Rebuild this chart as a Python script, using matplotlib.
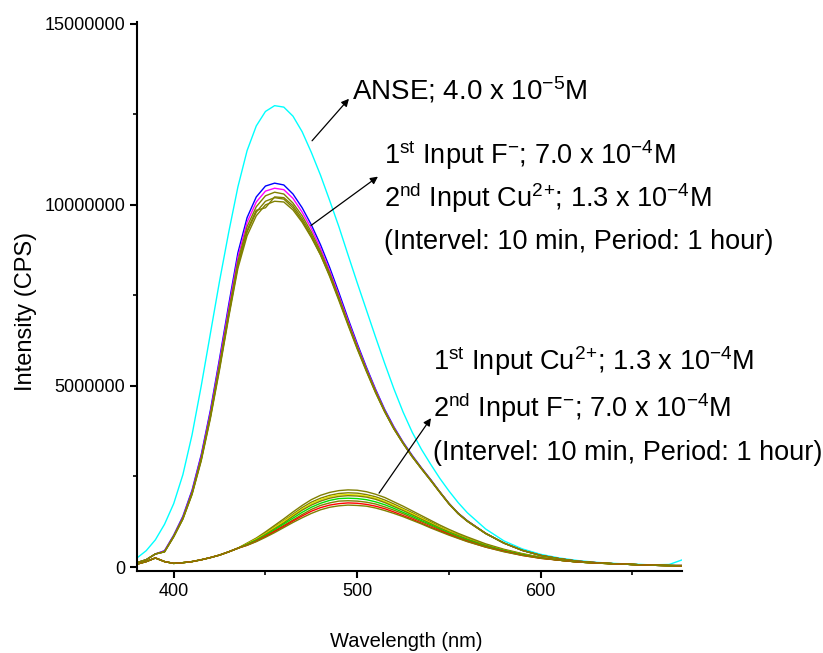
import numpy as np
import matplotlib
matplotlib.use('Agg')
from matplotlib import pyplot as plt
from matplotlib.ticker import FuncFormatter

plt.rcParams['font.family'] = ['Liberation Sans', 'DejaVu Sans']
plt.rcParams['mathtext.fontset'] = 'custom'
plt.rcParams['mathtext.rm'] = 'Liberation Sans'
plt.rcParams['mathtext.it'] = 'Liberation Sans:italic'
plt.rcParams['mathtext.bf'] = 'Liberation Sans:bold'

# wavelength grid (nm)
wl = [380, 385, 390, 395, 400, 405, 410, 415, 420, 425, 430, 435,
      440, 445, 450, 455, 460, 465, 470, 475, 480, 485, 490, 495, 500,
      505, 510, 515, 520, 525, 530, 535, 540, 545, 550, 555, 560,
      570, 580, 590, 600,
      610, 620, 630, 640, 650, 660, 670, 680]

# intensities in millions of CPS
anse = [0.25, 0.45, 0.75, 1.18, 1.75, 2.55, 3.65, 5.0, 6.45, 7.9, 9.25, 10.5,
        11.5, 12.18, 12.58, 12.74, 12.70, 12.45, 12.02, 11.45, 10.82, 10.12, 9.40, 8.62, 7.85,
        7.10, 6.35, 5.62, 4.92, 4.28, 3.72, 3.25, 2.84, 2.45, 2.10, 1.78, 1.50,
        1.05, 0.72, 0.50, 0.35,
        0.25, 0.18, 0.13, 0.10, 0.08, 0.06, 0.07, 0.25]

# F- first, then Cu2+
hi_blue = [0.12, 0.20, 0.36, 0.45, 0.88, 1.40, 2.12, 3.10, 4.33, 5.76, 7.25, 8.68,
           9.65, 10.22, 10.52, 10.60, 10.55, 10.30, 9.92, 9.45, 8.90, 8.27, 7.58, 6.86, 6.17,
           5.52, 4.91, 4.35, 3.87, 3.45, 3.08, 2.74, 2.42, 2.08, 1.76, 1.49, 1.28,
           0.93, 0.66, 0.46, 0.32,
           0.23, 0.16, 0.12, 0.09, 0.07, 0.05, 0.04, 0.04]
hi_magenta = [0.12, 0.20, 0.36, 0.44, 0.86, 1.37, 2.08, 3.05, 4.26, 5.68, 7.15, 8.56,
              9.52, 10.08, 10.38, 10.46, 10.42, 10.18, 9.80, 9.35, 8.80, 8.18, 7.50, 6.80, 6.12,
              5.48, 4.88, 4.32, 3.85, 3.43, 3.06, 2.73, 2.41, 2.07, 1.75, 1.48, 1.27,
              0.93, 0.66, 0.46, 0.32,
              0.23, 0.16, 0.12, 0.09, 0.07, 0.05, 0.04, 0.04]
hi_olive1 = [0.12, 0.20, 0.36, 0.42, 0.85, 1.35, 2.05, 3.00, 4.20, 5.60, 7.05, 8.45,
             9.40, 9.95, 10.25, 10.35, 10.30, 10.05, 9.70, 9.25, 8.72, 8.12, 7.45, 6.75, 6.08,
             5.45, 4.85, 4.30, 3.83, 3.42, 3.05, 2.72, 2.40, 2.07, 1.75, 1.48, 1.27,
             0.93, 0.66, 0.46, 0.32,
             0.23, 0.16, 0.12, 0.09, 0.07, 0.05, 0.04, 0.04]
hi_olive2 = [0.12, 0.20, 0.36, 0.42, 0.84, 1.33, 2.02, 2.96, 4.14, 5.50, 6.95, 8.32,
             9.25, 9.80, 10.10, 10.20, 10.16, 9.92, 9.56, 9.12, 8.62, 8.02, 7.36, 6.68, 6.02,
             5.40, 4.81, 4.28, 3.81, 3.41, 3.04, 2.71, 2.39, 2.06, 1.74, 1.47, 1.26,
             0.92, 0.66, 0.46, 0.32,
             0.23, 0.16, 0.12, 0.09, 0.07, 0.05, 0.04, 0.04]
hi_olive3 = [0.12, 0.20, 0.36, 0.42, 0.83, 1.32, 2.00, 2.93, 4.10, 5.45, 6.90, 8.25,
             9.15, 9.70, 10.00, 10.10, 10.08, 9.86, 9.52, 9.10, 8.62, 8.05, 7.40, 6.72, 6.06,
             5.43, 4.84, 4.30, 3.82, 3.42, 3.05, 2.72, 2.40, 2.07, 1.75, 1.48, 1.27,
             0.93, 0.66, 0.46, 0.32,
             0.23, 0.16, 0.12, 0.09, 0.07, 0.05, 0.04, 0.04]
hi_olive4 = [0.12, 0.20, 0.36, 0.42, 0.84, 1.34, 2.03, 2.98, 4.16, 5.54, 6.98, 8.36,
             9.30, 9.85, 9.92, 10.22, 10.20, 9.98, 9.62, 9.18, 8.66, 8.07, 7.41, 6.72, 6.05,
             5.43, 4.83, 4.29, 3.82, 3.42, 3.05, 2.72, 2.40, 2.07, 1.75, 1.48, 1.27,
             0.93, 0.66, 0.46, 0.32,
             0.23, 0.16, 0.12, 0.09, 0.07, 0.05, 0.04, 0.04]

# Cu2+ first, then F-
lo_left = [0.08, 0.15, 0.25, 0.15, 0.10, 0.12, 0.15, 0.20, 0.26, 0.33, 0.42, 0.52]
lo_tail = [0.19, 0.14, 0.11, 0.09, 0.07, 0.05, 0.04, 0.03]
lo_olive_top = [0.66, 0.80, 0.97, 1.15, 1.33, 1.52, 1.70, 1.86, 1.98, 2.06, 2.11, 2.13, 2.12,
                2.08, 2.01, 1.92, 1.80, 1.68, 1.55, 1.42, 1.29, 1.16, 1.04, 0.93, 0.83,
                0.64, 0.49, 0.37, 0.27]
lo_olive_b = [0.65, 0.78, 0.94, 1.11, 1.28, 1.46, 1.64, 1.79, 1.90, 1.98, 2.03, 2.05, 2.04,
              2.00, 1.94, 1.85, 1.74, 1.62, 1.50, 1.37, 1.25, 1.12, 1.00, 0.90, 0.80,
              0.62, 0.47, 0.36, 0.27]
lo_yellow = [0.64, 0.77, 0.92, 1.09, 1.26, 1.43, 1.60, 1.75, 1.86, 1.94, 1.99, 2.00, 1.99,
             1.96, 1.90, 1.81, 1.70, 1.59, 1.47, 1.35, 1.22, 1.10, 0.99, 0.88, 0.78,
             0.60, 0.46, 0.35, 0.26]
lo_olive_c = [0.63, 0.75, 0.90, 1.06, 1.22, 1.40, 1.57, 1.71, 1.82, 1.90, 1.95, 1.97, 1.96,
              1.93, 1.87, 1.78, 1.67, 1.56, 1.44, 1.32, 1.20, 1.08, 0.97, 0.87, 0.77,
              0.60, 0.46, 0.35, 0.26]
lo_green = [0.62, 0.74, 0.88, 1.03, 1.19, 1.35, 1.51, 1.65, 1.76, 1.84, 1.89, 1.90, 1.89,
            1.86, 1.80, 1.72, 1.62, 1.51, 1.40, 1.28, 1.17, 1.05, 0.94, 0.84, 0.75,
            0.58, 0.45, 0.34, 0.25]
lo_olive_d = [0.61, 0.72, 0.86, 1.00, 1.15, 1.30, 1.45, 1.59, 1.70, 1.77, 1.82, 1.83, 1.82,
              1.79, 1.74, 1.66, 1.57, 1.47, 1.36, 1.25, 1.14, 1.03, 0.92, 0.82, 0.73,
              0.57, 0.44, 0.33, 0.25]
lo_red = [0.60, 0.71, 0.84, 0.98, 1.12, 1.27, 1.41, 1.54, 1.64, 1.71, 1.75, 1.77, 1.76,
          1.73, 1.68, 1.61, 1.52, 1.42, 1.32, 1.21, 1.10, 1.00, 0.90, 0.80, 0.71,
          0.55, 0.43, 0.32, 0.24]
lo_olive_bot = [0.60, 0.70, 0.82, 0.95, 1.09, 1.23, 1.36, 1.48, 1.58, 1.65, 1.69, 1.71, 1.70,
                1.68, 1.63, 1.56, 1.48, 1.39, 1.29, 1.19, 1.08, 0.98, 0.88, 0.79, 0.70,
                0.55, 0.42, 0.32, 0.24]

olive = '#808000'
hi_curves = [(hi_blue, '#0000ff'), (hi_magenta, '#ff00ff'), (hi_olive1, olive),
             (hi_olive2, olive), (hi_olive3, olive), (hi_olive4, olive)]
lo_curves = [(lo_olive_top, olive), (lo_olive_b, olive), (lo_yellow, '#e6e600'),
             (lo_olive_c, olive), (lo_green, '#00e000'), (lo_olive_d, olive),
             (lo_red, '#ff0000'), (lo_olive_bot, olive)]

fig = plt.figure(figsize=(8.23, 6.53), dpi=100)
ax = fig.add_axes([137/823, 1-571/653, 545/823, 549/653])

x = np.array(wl)
ax.plot(x, np.array(anse)*1e6, color='#00ffff', lw=1.0)
for vals, c in hi_curves:
    ax.plot(x, np.array(vals)*1e6, color=c, lw=1.0)
for vals, c in lo_curves:
    ax.plot(x, np.array(lo_left + vals + lo_tail)*1e6, color=c, lw=1.0)

ax.set_xlim(380, 677)
ax.set_ylim(-1.1e5, 1.505e7)
ax.set_xticks([400, 500, 600])
ax.set_xticks([450, 550, 650], minor=True)
ax.set_yticks([0, 5e6, 1e7, 1.5e7])
ax.set_yticks([2.5e6, 7.5e6, 1.25e7], minor=True)
ax.yaxis.set_major_formatter(FuncFormatter(lambda v, p: '%d' % int(round(v))))
ax.spines['top'].set_visible(False)
ax.spines['right'].set_visible(False)
for s in ['left', 'bottom']:
    ax.spines[s].set_linewidth(1.5)
ax.tick_params(which='major', direction='out', length=5, width=1.5, labelsize=13, pad=3.5)
ax.tick_params(which='minor', direction='out', length=3, width=1.2)

fig.text(406/823, 1-647/653, 'Wavelength (nm)', fontsize=14.5, ha='center', va='baseline')
fig.text(32/823, 1-311/653, 'Intensity (CPS)', fontsize=17, rotation=90,
         rotation_mode='anchor', ha='center', va='baseline')

ax.text(497.2, 12.9e6, 'ANSE; 4.0 x 10$^{-5}$M', fontsize=20)
ax.text(514.6, 11.13e6, '1$^{\\mathrm{st}}$ Input F$^{-}$; 7.0 x 10$^{-4}$M', fontsize=19.5)
ax.text(514.6, 9.93e6, '2$^{\\mathrm{nd}}$ Input Cu$^{2}$$^{+}$; 1.3 x 10$^{-4}$M', fontsize=19.5)
ax.text(514.6, 8.79e6, '(Intervel: 10 min, Period: 1 hour)', fontsize=19.5)
ax.text(541.3, 5.43e6, '1$^{\\mathrm{st}}$ Input Cu$^{2}$$^{+}$; 1.3 x 10$^{-4}$M', fontsize=19.5, clip_on=False)
ax.text(541.3, 4.13e6, '2$^{\\mathrm{nd}}$ Input F$^{-}$; 7.0 x 10$^{-4}$M', fontsize=19.5, clip_on=False)
ax.text(541.3, 2.95e6, '(Intervel: 10 min, Period: 1 hour)', fontsize=19.5, clip_on=False)

arrow = dict(arrowstyle='-|>', color='black', lw=0.9, mutation_scale=11, shrinkA=0, shrinkB=0)
ax.annotate('', xy=(495.5, 12.93e6), xytext=(475.4, 11.77e6), arrowprops=arrow)
ax.annotate('', xy=(511.3, 10.78e6), xytext=(474.8, 9.43e6), arrowprops=arrow)
ax.annotate('', xy=(540.2, 4.11e6), xytext=(511.9, 2.04e6), arrowprops=arrow)

fig.savefig('out.png', dpi=100)
